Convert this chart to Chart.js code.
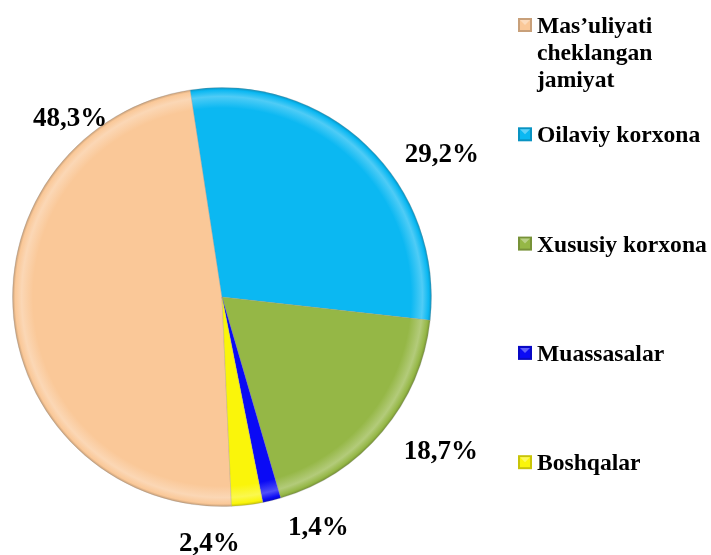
<!DOCTYPE html>
<html lang="uz">
<head>
  <meta charset="UTF-8">
  <title>Korxonalar tarkibi</title>
  <script src="https://cdn.jsdelivr.net/npm/chart.js"></script>
  <style>
    html, body { margin: 0; padding: 0; background: #fff; }
    #wrap { width: 711px; height: 555px; }
  </style>
</head>
<body>
<div id="wrap">
  <canvas id="pieChart" width="711" height="555"></canvas>
</div>

<script>
  // data
  const categories = ['Mas’uliyati cheklangan jamiyat', 'Oilaviy korxona', 'Xususiy korxona', 'Muassasalar', 'Boshqalar'];
  const shares = [48.3, 29.2, 18.7, 1.4, 2.4];
  const sliceColors = ['#FAC898', '#0BB8F2', '#95B746', '#0A0AF5', '#FAF50A'];

  // label anchor offsets from pie centre, in units of radius (manual Excel placement)
  const labelOffsets = [[-0.725, -0.85], [1.05, -0.68], [1.045, 0.74], [0.46, 1.105], [-0.06, 1.18]];

  function shade(hex, amt) {
    const n = parseInt(hex.slice(1), 16);
    let r = (n >> 16) & 255, g = (n >> 8) & 255, b = n & 255;
    const f = v => Math.max(0, Math.min(255, Math.round(amt > 0 ? v + (255 - v) * amt : v * (1 + amt))));
    return 'rgb(' + f(r) + ',' + f(g) + ',' + f(b) + ')';
  }

  // bevel look: radial gradient per slice
  function bevelFill(ctx) {
    const base = sliceColors[ctx.dataIndex];
    const chart = ctx.chart;
    const a = chart.chartArea;
    if (!a) return base;
    const cx = (a.left + a.right) / 2, cy = (a.top + a.bottom) / 2;
    const r = Math.min(a.right - a.left, a.bottom - a.top) / 2;
    const g = chart.ctx.createRadialGradient(cx, cy, 0, cx, cy, r);
    g.addColorStop(0, base);
    g.addColorStop(0.9, base);
    g.addColorStop(0.955, shade(base, 0.28));
    g.addColorStop(0.985, base);
    g.addColorStop(1, shade(base, -0.25));
    return g;
  }

  const pctLabels = {
    id: 'pctLabels',
    afterDatasetsDraw(chart) {
      const meta = chart.getDatasetMeta(0);
      const c = chart.ctx;
      c.save();
      c.font = 'bold 27px "Liberation Serif", "Times New Roman", serif';
      c.fillStyle = '#000';
      c.textAlign = 'center';
      c.textBaseline = 'middle';
      meta.data.forEach((arc, i) => {
        const r = arc.outerRadius;
        const x = arc.x + labelOffsets[i][0] * r;
        const y = arc.y + labelOffsets[i][1] * r;
        c.fillText(shares[i].toFixed(1).replace('.', ',') + '%', x, y);
      });
      c.restore();
    }
  };

  // legend on the right with wrapped text
  const sideLegend = {
    id: 'sideLegend',
    afterDraw(chart, args, opts) {
      const c = chart.ctx;
      c.save();
      c.font = 'bold 23.6px "Liberation Serif", "Times New Roman", serif';
      c.textBaseline = 'alphabetic';
      c.textAlign = 'left';
      const maxW = chart.width - opts.textX - 1;
      categories.forEach((name, i) => {
        const base = opts.firstBaseline + i * opts.step;
        // marker
        const m = opts.marker;
        const mx = opts.markerX, my = base - 15;
        c.fillStyle = shade(sliceColors[i], -0.2);
        c.fillRect(mx, my, m, m);
        c.fillStyle = sliceColors[i];
        c.fillRect(mx + 2, my + 2, m - 4, m - 4);
        c.fillStyle = shade(sliceColors[i], 0.35);
        c.beginPath();
        c.moveTo(mx + 2, my + 2);
        c.lineTo(mx + m - 2, my + 2);
        c.lineTo(mx + m / 2, my + m / 2);
        c.closePath();
        c.fill();
        // wrapped text
        const words = name.split(' ');
        const lines = [];
        let line = '';
        words.forEach(w => {
          const t = line ? line + ' ' + w : w;
          if (line && c.measureText(t).width > maxW) { lines.push(line); line = w; }
          else line = t;
        });
        lines.push(line);
        c.fillStyle = '#000';
        lines.forEach((ln, k) => c.fillText(ln, opts.textX, base + k * opts.lineH));
      });
      c.restore();
    }
  };

  const ctx = document.getElementById('pieChart').getContext('2d');
  const chart = new Chart(ctx, {
    type: 'pie',
    data: {
      labels: categories,
      datasets: [{
        data: shares,
        backgroundColor: bevelFill,
        borderColor: 'rgba(140,140,140,0.25)',
        borderWidth: 1
      }]
    },
    options: {
      responsive: false,
      animation: false,
      rotation: 177.4,
      layout: { padding: { left: 12, top: 87, right: 279, bottom: 48 } },
      plugins: {
        legend: { display: false },
        tooltip: { enabled: false },
        sideLegend: { markerX: 518, marker: 14, textX: 537, firstBaseline: 33, step: 109.3, lineH: 27 }
      }
    },
    plugins: [pctLabels, sideLegend]
  });
</script>
</body>
</html>
